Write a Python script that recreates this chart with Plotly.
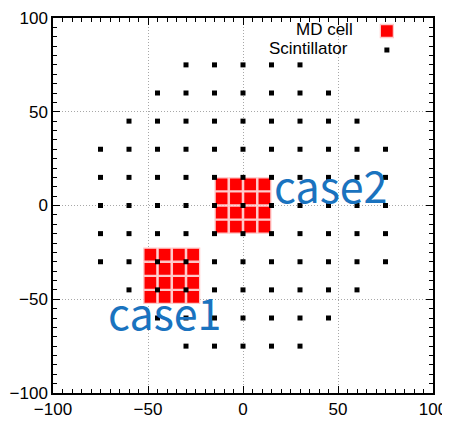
import plotly.graph_objects as go

# Scintillator grid (rows of y with their x positions)
scint_row_y = [75, 60, 45, 30, 15, 0, -15, -30, -45, -60, -75]
scint_row_x = [
    [-30, -15, 0, 15, 30],
    [-45, -30, -15, 0, 15, 30, 45],
    [-60, -45, -30, -15, 0, 15, 30, 45, 60],
    [-75, -60, -45, -30, -15, 0, 15, 30, 45, 60, 75],
    [-75, -60, -45, -30, -15, 0, 15, 30, 45, 60, 75],
    [-75, -60, -45, -30, -15, 0, 15, 30, 45, 60, 75],
    [-75, -60, -45, -30, -15, 0, 15, 30, 45, 60, 75],
    [-75, -60, -45, -30, -15, 0, 15, 30, 45, 60, 75],
    [-60, -45, -30, -15, 0, 15, 30, 45, 60],
    [-45, -30, -15, 0, 15, 30, 45],
    [-30, -15, 0, 15, 30],
]

# MD cell centres (4x4 blocks)
md_case1_cols = [-48.75, -41.25, -33.75, -26.25]
md_case1_rows = [-48.75, -41.25, -33.75, -26.25]
md_case2_cols = [-11.25, -3.75, 3.75, 11.25]
md_case2_rows = [-11.25, -3.75, 3.75, 11.25]

labels_text = ["case1", "case2"]
labels_x = [-72, 15]
labels_y = [-56.5, 11.7]

scint_x = [x for xs, y in zip(scint_row_x, scint_row_y) for x in xs]
scint_y = [y for xs, y in zip(scint_row_x, scint_row_y) for x in xs]

md_x, md_y = [], []
for cols, rows in [(md_case1_cols, md_case1_rows), (md_case2_cols, md_case2_rows)]:
    for yy in rows:
        for xx in cols:
            md_x.append(xx)
            md_y.append(yy)

fig = go.Figure()
fig.add_trace(go.Scatter(
    x=md_x, y=md_y, mode="markers", name="",
    marker=dict(symbol="square", size=13, color="#ff0000",
                line=dict(width=1.3, color="#ffc8c8")),
))
fig.add_trace(go.Scatter(
    x=scint_x, y=scint_y, mode="markers", name="",
    marker=dict(symbol="square", size=5, color="#000000", line=dict(width=0)),
))

for t, x, y in zip(labels_text, labels_x, labels_y):
    fig.add_annotation(x=x, y=y, text=t, showarrow=False, xanchor="left", yanchor="middle",
                       font=dict(family="Noto Sans CJK JP", size=43, color="#1a73bf"))

# legend texts (gnuplot style: text left of key)
fig.add_annotation(x=0.795, y=0.969, xref="paper", yref="paper", text="MD cell", showarrow=False,
                   xanchor="right", yanchor="middle", font=dict(family="Liberation Sans", size=17, color="black"))
fig.add_annotation(x=0.782, y=0.919, xref="paper", yref="paper", text="Scintillator", showarrow=False,
                   xanchor="right", yanchor="middle", font=dict(family="Liberation Sans", size=17, color="black"))

axis_common = dict(
    range=[-100, 100], dtick=50, tick0=0, automargin=False,
    showline=True, linecolor="black", linewidth=1.5, mirror="allticks",
    ticks="inside", ticklen=7, tickcolor="black", tickwidth=1,
    minor=dict(dtick=5, ticks="inside", ticklen=4, tickcolor="black", tickwidth=1, showgrid=False),
    showgrid=True, gridcolor="#a8a8a8", griddash="1px,2px", gridwidth=1,
    zeroline=False, ticklabeloverflow="allow",
    tickfont=dict(family="Liberation Sans", size=17, color="black"),
)

fig.update_layout(
    width=450, height=421,
    margin=dict(l=45, r=25, t=10, b=36, autoexpand=False),
    plot_bgcolor="white", paper_bgcolor="white",
    xaxis=dict(**axis_common),
    yaxis=dict(**axis_common),
    showlegend=True,
    legend=dict(x=0.826, y=1.004, xanchor="left", yanchor="top", bgcolor="rgba(0,0,0,0)",
                font=dict(size=8), itemwidth=30),
)

fig.write_html("out.html")
